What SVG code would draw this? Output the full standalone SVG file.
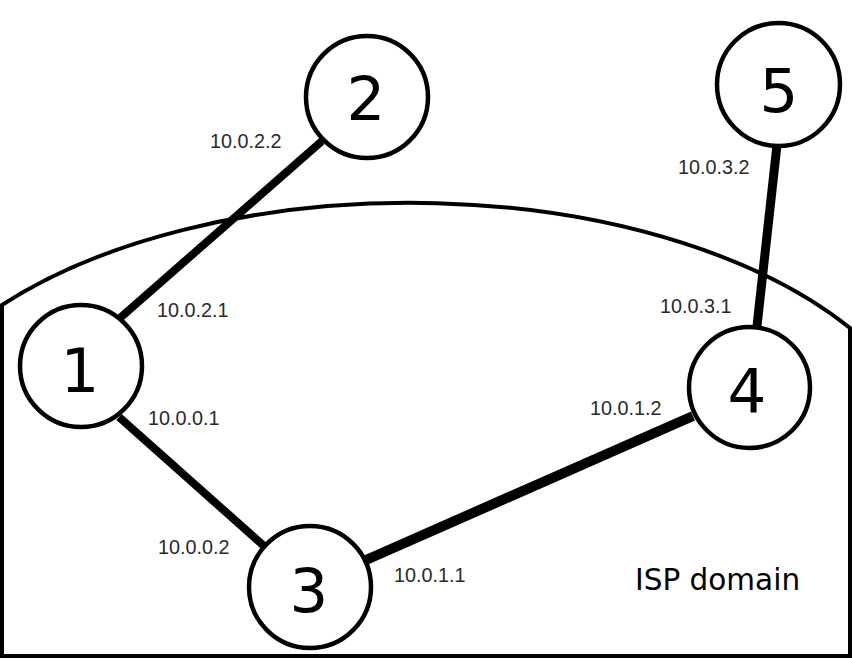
<svg xmlns="http://www.w3.org/2000/svg" width="852" height="658" viewBox="0 0 852 658">
<style>
.frame{fill:none;stroke:#000;stroke-width:4}
.link{stroke:#000;stroke-linecap:butt}
.node circle{fill:#fff;stroke:#000;stroke-width:4.5}
.node text{font-family:"DejaVu Sans",sans-serif;font-size:61px;fill:#000;text-anchor:middle}
.ip{font-family:"Liberation Sans",Arial,sans-serif;font-size:19.8px;fill:#2a2a2a}
.dom{font-family:"DejaVu Sans",sans-serif;font-size:29.5px;fill:#000}
</style>
<rect width="852" height="658" fill="#fff"/>
<g id="isp-domain">
<path class="frame" d="M2,656 L2,305 A526 277 0 0 1 850,328 L850,656 Z"/>
<text class="dom" x="635" y="590">ISP domain</text>
</g>
<g id="connectors">
<line class="link" x1="120" y1="318" x2="322" y2="141" stroke-width="8"/>
<line class="link" x1="119" y1="417" x2="264" y2="546" stroke-width="8"/>
<line class="link" x1="366" y1="560" x2="693" y2="416" stroke-width="10"/>
<line class="link" x1="757" y1="326" x2="777" y2="145" stroke-width="9"/>
</g>
<g id="labels">
<text class="ip" x="210" y="148">10.0.2.2</text>
<text class="ip" x="157" y="317">10.0.2.1</text>
<text class="ip" x="148" y="425">10.0.0.1</text>
<text class="ip" x="158" y="554">10.0.0.2</text>
<text class="ip" x="394" y="582">10.0.1.1</text>
<text class="ip" x="590" y="415">10.0.1.2</text>
<text class="ip" x="660" y="313">10.0.3.1</text>
<text class="ip" x="678" y="174">10.0.3.2</text>
</g>
<g id="node1" class="node"><circle cx="81" cy="366" r="61"/><text x="80" y="392">1</text></g>
<g id="node2" class="node"><circle cx="367" cy="97" r="61"/><text x="366" y="120">2</text></g>
<g id="node3" class="node"><circle cx="310" cy="587" r="61"/><text x="309" y="612">3</text></g>
<g id="node4" class="node"><circle cx="749.5" cy="387.5" r="60.5"/><text x="747" y="412">4</text></g>
<g id="node5" class="node"><circle cx="778.5" cy="84.5" r="61.5"/><text x="779" y="112">5</text></g>
</svg>
